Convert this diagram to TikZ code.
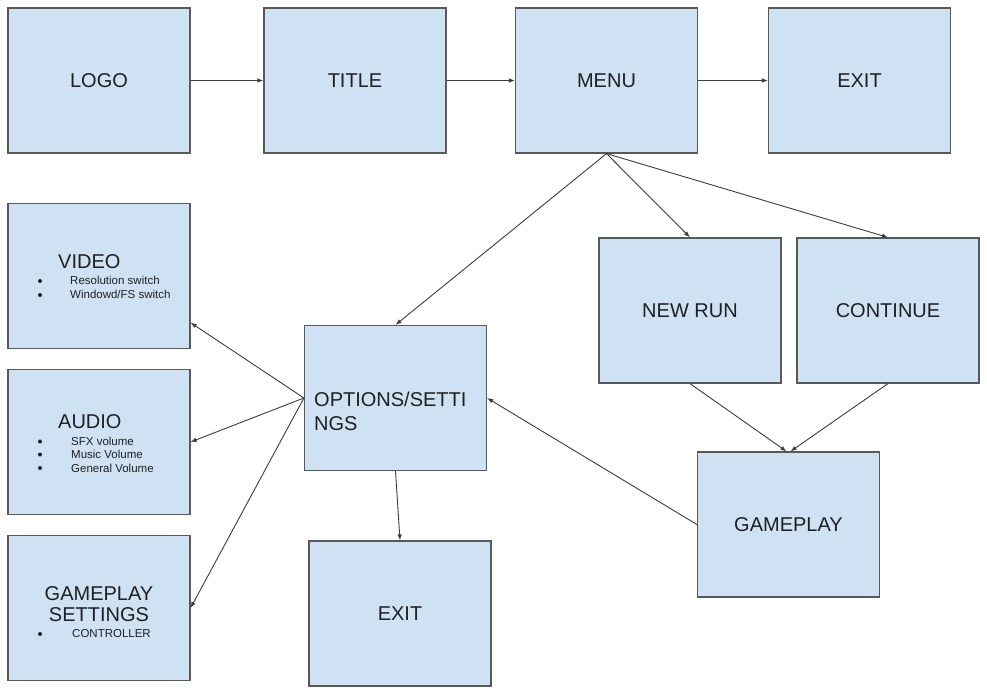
\documentclass[tikz,border=0pt]{standalone}
\usepackage{fontspec}
\setmainfont{Liberation Sans}
\usetikzlibrary{arrows.meta}
\definecolor{boxblue}{HTML}{CFE2F3}
\definecolor{edgegray}{HTML}{595959}
\definecolor{wiregray}{HTML}{3C3C3C}
\definecolor{inkblack}{HTML}{202020}
\begin{document}
\begin{tikzpicture}[x=1pt,y=-1pt,
    screen/.style={draw=edgegray,fill=boxblue,line width=1.2pt,minimum width=182pt,minimum height=145pt,
        inner sep=0pt,text=inkblack,font=\fontsize{20}{24}\selectfont},
    bigtext/.style={anchor=base west,inner sep=0pt,text=inkblack,font=\fontsize{20}{24}\selectfont},
    smalltext/.style={anchor=base west,inner sep=0pt,text=inkblack,font=\fontsize{11.5}{14}\selectfont},
    flow/.style={draw=wiregray,line width=0.9pt,-{Latex[length=6pt,width=4.5pt]}}]
        \useasboundingbox (0,0) rectangle (987,692);
        %% top row
        \node[screen] (logo)  at (99,80.5)    {LOGO};
        \node[screen] (title) at (355,80.5)   {TITLE};
        \node[screen] (menu)  at (606.5,80.5) {MENU};
        \node[screen] (exit)  at (859.5,80.5) {EXIT};
        %% run screens
        \node[screen] (newrun)   at (690,310.5)   {NEW RUN};
        \node[screen] (continue) at (888,310.5)   {CONTINUE};
        \node[screen] (gameplay) at (788.5,524.5) {GAMEPLAY};
        %% options and its sub screens
        \node[screen] (options) at (395.5,398) {};
        \node[bigtext] (optline1) at (314,406) {OPTIONS/SETTI};
        \node[bigtext] (optline2) at (314,430) {NGS};
        \node[screen] (optexit) at (400,613.5) {EXIT};
        \node[screen] (video) at (99,276) {};
        \node[bigtext] (videohead) at (58,269) {VIDEO};
        \fill[inkblack] (40,281) circle (2pt);
        \node[smalltext] (videoitem1) at (70,285) {Resolution switch};
        \fill[inkblack] (40,295) circle (2pt);
        \node[smalltext] (videoitem2) at (70,299) {Windowd/FS switch};
        \node[screen] (audio) at (99,442) {};
        \node[bigtext] (audiohead) at (58,428) {AUDIO};
        \fill[inkblack] (40,441.5) circle (2pt);
        \node[smalltext] (audioitem1) at (71,445.5) {SFX volume};
        \fill[inkblack] (40,454.5) circle (2pt);
        \node[smalltext] (audioitem2) at (71,458.5) {Music Volume};
        \fill[inkblack] (40,468) circle (2pt);
        \node[smalltext] (audioitem3) at (71,472) {General Volume};
        \node[screen] (gpset) at (99,608) {};
        \node[bigtext,anchor=base] (gpsethead1) at (99,600) {GAMEPLAY};
        \node[bigtext,anchor=base] (gpsethead2) at (99,621) {SETTINGS};
        \fill[inkblack] (40,634) circle (2pt);
        \node[smalltext] (gpsetitem1) at (72,637) {CONTROLLER};
        %% connectors
        \draw[flow] (logo.east) -- (title.west);
        \draw[flow] (title.east) -- (menu.west);
        \draw[flow] (menu.east) -- (exit.west);
        \draw[flow] (menu.south) -- (options.north);
        \draw[flow] (menu.south) -- (newrun.north);
        \draw[flow] (menu.south) -- (continue.north);
        \draw[flow] (newrun.south) -- ([xshift=-2pt]gameplay.north);
        \draw[flow] (continue.south) -- ([xshift=2pt]gameplay.north);
        \draw[flow] (gameplay.west) -- (options.east);
        \draw[flow] (options.west) -- (video.-27);
        \draw[flow] (options.west) -- (audio.east);
        \draw[flow] (options.west) -- (gpset.east);
        \draw[flow] (options.south) -- (optexit.north);
    \end{tikzpicture}
\end{document}
